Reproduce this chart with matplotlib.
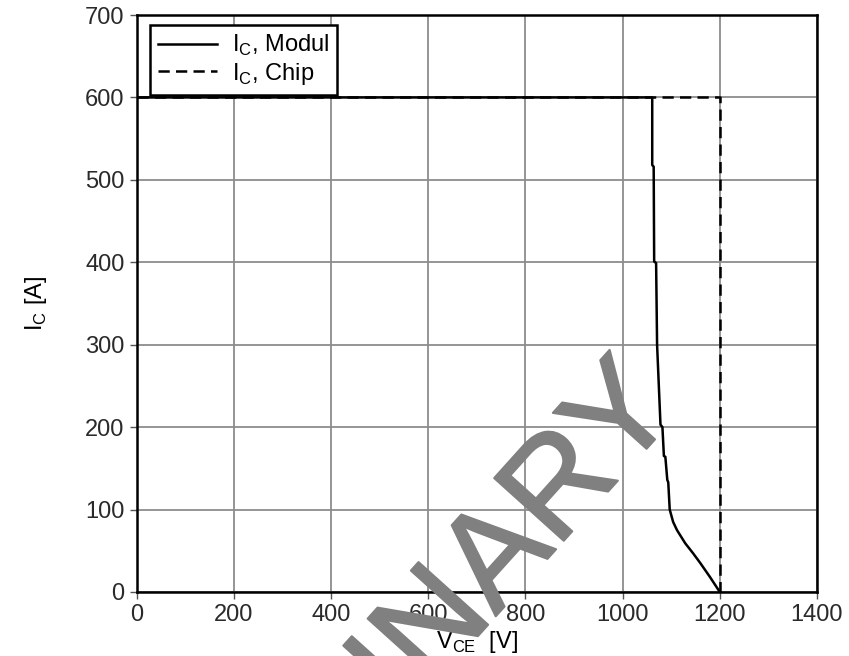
import matplotlib
matplotlib.use("Agg")
import matplotlib.pyplot as plt
import matplotlib.patheffects as pe

plt.rcParams['font.family'] = ['Liberation Sans', 'DejaVu Sans']

# I_C, Modul
vce_modul = [0, 1061, 1061, 1064, 1065, 1069, 1071, 1078, 1082, 1085, 1088,
             1092, 1094, 1097, 1104, 1112, 1129, 1145, 1160, 1180, 1200]
ic_modul = [600, 600, 518, 516, 401, 399, 300, 203, 200, 165, 164,
            136, 133, 100, 85, 75, 59, 47, 35, 18, 0]

# I_C, Chip
vce_chip = [0, 1200, 1200]
ic_chip = [600, 600, 0]

x_ticks = [0, 200, 400, 600, 800, 1000, 1200, 1400]
y_ticks = [0, 100, 200, 300, 400, 500, 600, 700]

fig = plt.figure(figsize=(8.49, 6.56), dpi=100)
ax = fig.add_axes([0.1608, 0.0976, 0.8015, 0.8795])

ax.plot(vce_chip, ic_chip, color='black', lw=1.8, ls=(0, (4.5, 2.5)),
        label='I$_\\mathregular{C}$, Chip', zorder=3)
ax.plot(vce_modul, ic_modul, color='black', lw=1.8,
        label='I$_\\mathregular{C}$, Modul', zorder=4)

ax.set_xlim(0, 1400)
ax.set_ylim(0, 700)
ax.set_xticks(x_ticks)
ax.set_yticks(y_ticks)
ax.grid(True, color='#8c8c8c', lw=1.3)
ax.set_axisbelow(True)
for s in ax.spines.values():
    s.set_linewidth(1.8)
ax.tick_params(labelsize=17, labelcolor='#2a2a2a', length=5, width=1, color='#555555')

ax.set_xlabel('V$_\\mathregular{CE}$  [V]', fontsize=17, labelpad=2)
ax.set_ylabel('I$_\\mathregular{C}$ [A]', fontsize=17, labelpad=26)

handles, labels = ax.get_legend_handles_labels()
leg = ax.legend(handles[::-1], labels[::-1], loc='upper left',
                bbox_to_anchor=(0.02, 0.983), fontsize=17, frameon=True,
                fancybox=False, edgecolor='black', framealpha=1,
                handlelength=2.5, borderpad=0.35, labelspacing=0.1,
                handletextpad=0.6, borderaxespad=0)
leg.get_frame().set_linewidth(1.8)

# watermark
fig.text(0.802, 0.374, 'PRELIMINARY', fontsize=98,
         color='#808080', rotation=48, ha='right', va='baseline',
         rotation_mode='anchor', zorder=10,
         path_effects=[pe.withStroke(linewidth=1.5, foreground='#808080')])

fig.savefig('out.png', dpi=100)
